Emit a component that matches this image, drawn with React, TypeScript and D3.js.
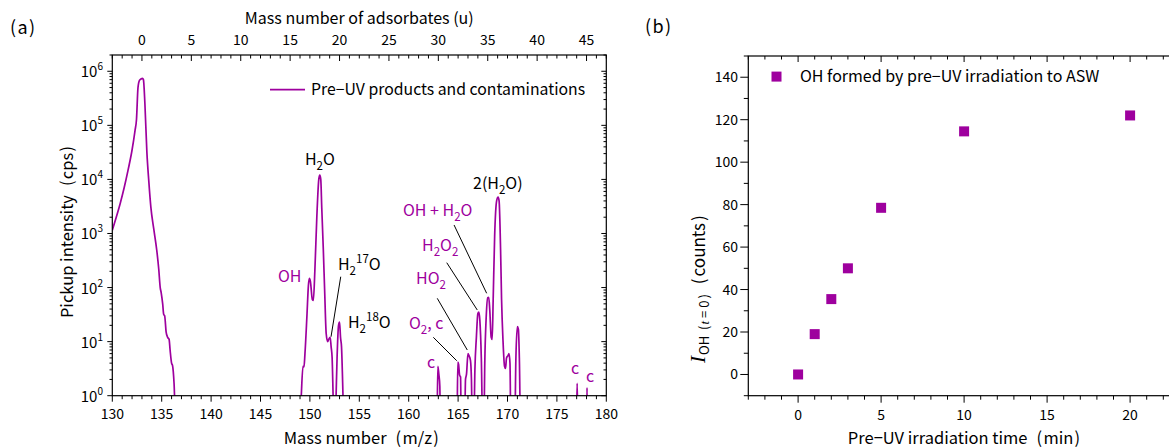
import React from 'react';
import * as d3 from 'd3';

// ---------- data ----------
const mzValues = [
  130.0, 130.4, 130.8, 131.2, 131.6, 132.0, 132.3, 132.45, 132.6, 132.75, 132.9, 133.05, 133.15, 133.3, 133.5, 133.7, 133.9,
  134.2, 134.5, 134.7, 134.85, 134.95, 135.1, 135.2, 135.3, 135.45, 135.6, 135.75, 135.85, 136.0, 136.1, 136.25, 136.45,
  148.9, 149.1, 149.3, 149.4, 149.5, 149.7, 149.85, 149.95, 150.05, 150.25, 150.35, 150.5, 150.7, 150.9, 151.0, 151.1,
  151.2, 151.36, 151.5, 151.65, 151.8, 151.9, 152.05, 152.15, 152.25, 152.35, 152.45,
  152.55, 152.65, 152.75, 152.9, 153.0, 153.1, 153.2, 153.35, 153.45,
  162.85, 162.95, 163.05, 163.15, 163.22,
  164.88, 164.97, 165.05, 165.15, 165.25, 165.32,
  165.65, 165.75, 165.85, 166.0, 166.1, 166.25, 166.35, 166.45,
  166.58, 166.7, 166.85, 167.0, 167.1, 167.2, 167.35, 167.5,
  167.6, 167.7, 167.85, 168.0, 168.1, 168.2, 168.35, 168.45, 168.55, 168.7, 168.9, 169.05, 169.15, 169.3, 169.4, 169.55,
  169.7, 169.8, 169.9, 170.05, 170.15, 170.25, 170.35,
  170.72, 170.85, 171.0, 171.1, 171.2, 171.33,
  176.95, 177.05, 177.15,
  177.98, 178.05, 178.1, 180.0,
];
const cpsValues = [
  1150, 2000, 3600, 7000, 15000, 35000, 80000, 130000, 500000, 680000, 720000, 740000, 700000, 250000, 32000, 9000, 3100,
  1200, 490, 220, 100, 80, 50, 32, 30, 15, 12, 11, 7, 4, 3.6, 1.7, 0.2,
  0.2, 0.8, 3.5, 3.4, 6, 30, 110, 148, 130, 60, 58, 200, 2000, 10000, 12000, 10000,
  3000, 490, 80, 14, 10, 11, 12, 8, 5, 1, 0.2,
  0.2, 1, 5, 20, 23, 12, 8, 1, 0.2,
  0.2, 3.5, 2.5, 1.5, 0.2,
  0.2, 4.2, 3.8, 2.4, 2.2, 0.2,
  0.2, 2, 2.5, 6, 5.5, 4.5, 2, 0.2,
  0.2, 3, 12, 33, 35, 25, 5, 0.2,
  0.2, 4, 30, 65, 66, 40, 12, 11, 60, 900, 4000, 4700, 4000, 500, 60, 10,
  3.5, 3.2, 5, 5.5, 6, 4, 0.2,
  0.2, 5, 19, 17, 5, 0.2,
  0.2, 1.7, 0.2,
  0.2, 1.4, 0.2, 0.2,
];

const timeMin = [0, 1, 2, 3, 5, 10, 20];
const ohCounts = [0, 19, 35.5, 50, 78.5, 114.5, 122];

const massTicks = [130, 135, 140, 145, 150, 155, 160, 165, 170, 175, 180];
const adsTicks = [0, 5, 10, 15, 20, 25, 30, 35, 40, 45];
const decadeExp = [0, 1, 2, 3, 4, 5, 6];
const timeTicks = [0, 5, 10, 15, 20];
const countTicks = [0, 20, 40, 60, 80, 100, 120, 140];

// annotation labels in data units (m/z, log10 intensity)
type Part = { t: string; s?: 'sub' | 'sup' };
const peakLabels: { parts: Part[]; mz: number; lg: number; purple: boolean }[] = [
  { parts: [{ t: 'H' }, { t: '2', s: 'sub' }, { t: 'O' }], mz: 149.5, lg: 4.267, purple: false },
  { parts: [{ t: 'OH' }], mz: 146.77, lg: 2.103, purple: true },
  { parts: [{ t: 'H' }, { t: '2', s: 'sub' }, { t: '17', s: 'sup' }, { t: 'O' }], mz: 152.84, lg: 2.325, purple: false },
  { parts: [{ t: 'H' }, { t: '2', s: 'sub' }, { t: '18', s: 'sup' }, { t: 'O' }], mz: 153.85, lg: 1.252, purple: false },
  { parts: [{ t: '2(H' }, { t: '2', s: 'sub' }, { t: 'O)' }], mz: 166.51, lg: 3.823, purple: false },
  { parts: [{ t: 'OH + H' }, { t: '2', s: 'sub' }, { t: 'O' }], mz: 159.42, lg: 3.323, purple: true },
  { parts: [{ t: 'H' }, { t: '2', s: 'sub' }, { t: 'O' }, { t: '2', s: 'sub' }], mz: 161.35, lg: 2.676, purple: true },
  { parts: [{ t: 'HO' }, { t: '2', s: 'sub' }], mz: 160.74, lg: 2.066, purple: true },
  { parts: [{ t: 'O' }, { t: '2', s: 'sub' }, { t: ', c' }], mz: 160.03, lg: 1.234, purple: true },
  { parts: [{ t: 'c' }], mz: 161.85, lg: 0.512, purple: true },
  { parts: [{ t: 'c' }], mz: 176.43, lg: 0.401, purple: true },
  { parts: [{ t: 'c' }], mz: 177.94, lg: 0.253, purple: true },
];
const leaders = [
  [153.12, 2.201, 152.14, 1.091],
  [164.59, 3.157, 167.89, 1.894],
  [163.85, 2.46, 166.94, 1.585],
  [162.89, 1.801, 165.93, 0.845],
  [162.49, 1.08, 164.86, 0.647],
];

// ---------- layout ----------
const W = 1169;
const H = 448;
const FONT = "'Noto Sans CJK JP', 'Noto Sans', sans-serif";
const SERIF = "'Liberation Serif', 'DejaVu Serif', serif";
const PURPLE = '#9e009e';

const L = { x0: 112.3, x1: 606.3, y0: 55, y1: 395.7 };
const R = { x0: 748.3, x1: 1171.6, y0: 56, y1: 395.7 };

const xL = d3.scaleLinear().domain([130, 180]).range([L.x0, L.x1]);
const xTop = d3.scaleLinear().domain([-3, 47]).range([L.x0, L.x1]);
const yL = d3.scaleLog().domain([1, 2e6]).range([L.y1, L.y0]);
const xR = d3.scaleLinear().domain([-3, 22.5]).range([R.x0, R.x1]);
const yR = d3.scaleLinear().domain([-10, 150]).range([R.y1, R.y0]);

// text with wide-looking parentheses (as in the original Japanese font)
function wide(str: string, size: number, keyBase: string, k = 0.32) {
  const segs = str.split(/([()])/).filter((s) => s !== '');
  const out: any[] = [];
  let pending = 0;
  segs.forEach((s, i) => {
    let dx = pending;
    pending = 0;
    if (s === '(') {
      dx += size * k;
      pending = size * 0.08;
    } else if (s === ')') {
      dx += size * 0.08;
      pending = size * k;
    }
    out.push(
      <tspan key={keyBase + i} dx={dx || undefined}>
        {s}
      </tspan>
    );
  });
  return out;
}

function Label({ parts, x, y, size, fill }: { parts: Part[]; x: number; y: number; size: number; fill: string }) {
  const subSize = size * 0.72;
  let cur = 0;
  const spans = parts.map((p, i) => {
    const target = p.s === 'sub' ? size * 0.3 : p.s === 'sup' ? -size * 0.42 : 0;
    const dy = target - cur;
    cur = target;
    return (
      <tspan key={i} dy={dy} fontSize={p.s ? subSize : size}>
        {p.t}
      </tspan>
    );
  });
  return (
    <text x={x} y={y} fill={fill} fontSize={size} fontFamily={FONT}>
      {spans}
    </text>
  );
}

export default function App() {
  const line = d3
    .line<number>()
    .x((_, i) => xL(mzValues[i]))
    .y((_, i) => yL(Math.max(cpsValues[i], 0.05)))
    .curve(d3.curveMonotoneX);
  const pathD = line(mzValues.map((_, i) => i)) || '';

  const massMinor = d3.range(130, 181, 1);
  const adsMinor = d3.range(-3, 48, 1);
  const logMinor: number[] = [];
  for (const e of decadeExp) for (let k = 2; k <= 9; k++) {
    const v = k * Math.pow(10, e);
    if (v <= 2e6) logMinor.push(v);
  }
  const timeMinor = d3.range(-3, 23, 1);
  const countMinor = d3.range(-10, 151, 10);

  const axisStroke = { stroke: '#000', strokeWidth: 1.2 };
  const legY = yL(Math.pow(10, 5.66));

  return (
    <svg width={W} height={H} style={{ position: 'absolute', left: 0, top: 0, background: '#fff' }}>
      <defs>
        <clipPath id="clipL">
          <rect x={L.x0} y={L.y0} width={L.x1 - L.x0} height={L.y1 - L.y0} />
        </clipPath>
      </defs>
      <rect x={0} y={0} width={W} height={H} fill="#fff" />

      {/* ===== Panel (a) ===== */}
      <text x={10} y={34} fontSize={18} fontFamily={FONT}>{wide('(a)', 18, 'a', 0)}</text>
      <path d={pathD} fill="none" stroke={PURPLE} strokeWidth={1.7} clipPath="url(#clipL)" />

      <rect x={L.x0} y={L.y0} width={L.x1 - L.x0} height={L.y1 - L.y0} fill="none" {...axisStroke} />

      {/* bottom axis */}
      {massMinor.map((v) => (
        <line key={'bm' + v} x1={xL(v)} x2={xL(v)} y1={L.y1} y2={L.y1 + (v % 5 === 0 ? 6 : 3.5)} stroke="#000" strokeWidth={1} />
      ))}
      {massTicks.map((v) => (
        <text key={'bl' + v} x={xL(v)} y={419} textAnchor="middle" fontSize={14} fontFamily={FONT}>{v}</text>
      ))}
      <text x={(L.x0 + L.x1) / 2 + 2} y={444} textAnchor="middle" fontSize={16.5} fontFamily={FONT}>
        {wide('Mass number (m/z)', 16.5, 'mt')}
      </text>

      {/* top axis */}
      {adsMinor.map((v) => (
        <line key={'tm' + v} x1={xTop(v)} x2={xTop(v)} y1={L.y0} y2={L.y0 + (v % 5 === 0 ? 6 : 3.5)} stroke="#000" strokeWidth={1} />
      ))}
      {adsTicks.map((v) => (
        <text key={'tl' + v} x={xTop(v)} y={45} textAnchor="middle" fontSize={14} fontFamily={FONT}>{v}</text>
      ))}
      <text x={(L.x0 + L.x1) / 2} y={24} textAnchor="middle" fontSize={16} fontFamily={FONT}>Mass number of adsorbates (u)</text>

      {/* left / right axes */}
      {decadeExp.map((e) => (
        <g key={'ly' + e}>
          <line x1={L.x0 - 5} x2={L.x0} y1={yL(Math.pow(10, e))} y2={yL(Math.pow(10, e))} stroke="#000" strokeWidth={1} />
          <line x1={L.x1 - 5} x2={L.x1} y1={yL(Math.pow(10, e))} y2={yL(Math.pow(10, e))} stroke="#000" strokeWidth={1} />
          <text x={103} y={yL(Math.pow(10, e)) + 6} textAnchor="end" fontSize={15} fontFamily={FONT}>
            10<tspan dy={-7} fontSize={10}>{e}</tspan>
          </text>
        </g>
      ))}
      {logMinor.map((v) => (
        <g key={'lm' + v}>
          <line x1={L.x0 - 2.8} x2={L.x0} y1={yL(v)} y2={yL(v)} stroke="#000" strokeWidth={1} />
          <line x1={L.x1 - 2.8} x2={L.x1} y1={yL(v)} y2={yL(v)} stroke="#000" strokeWidth={1} />
        </g>
      ))}
      <text transform={`translate(73,232) rotate(-90)`} textAnchor="middle" fontSize={16.5} fontFamily={FONT}>
        {wide('Pickup intensity (cps)', 16.5, 'pi')}
      </text>

      {/* legend a */}
      <line x1={270} x2={305} y1={legY} y2={legY} stroke={PURPLE} strokeWidth={1.7} />
      <text x={311} y={legY + 5.5} fontSize={15.8} fontFamily={FONT}>Pre−UV products and contaminations</text>

      {/* peak labels */}
      {leaders.map((l, i) => (
        <line key={'ld' + i} x1={xL(l[0])} y1={yL(Math.pow(10, l[1]))} x2={xL(l[2])} y2={yL(Math.pow(10, l[3]))} stroke="#000" strokeWidth={1} />
      ))}
      {peakLabels.map((p, i) => (
        <Label key={'pl' + i} parts={p.parts} x={xL(p.mz)} y={yL(Math.pow(10, p.lg))} size={16} fill={p.purple ? PURPLE : '#000'} />
      ))}

      {/* ===== Panel (b) ===== */}
      <text x={645} y={33} fontSize={18} fontFamily={FONT}>{wide('(b)', 18, 'b', 0)}</text>
      <rect x={R.x0} y={R.y0} width={R.x1 - R.x0} height={R.y1 - R.y0} fill="none" {...axisStroke} />

      {timeMinor.map((v) => (
        <g key={'rb' + v}>
          <line x1={xR(v)} x2={xR(v)} y1={R.y1} y2={R.y1 + (v % 5 === 0 ? 7 : 4)} stroke="#000" strokeWidth={1} />
          <line x1={xR(v)} x2={xR(v)} y1={R.y0} y2={R.y0 + (v % 5 === 0 ? 6 : 3.5)} stroke="#000" strokeWidth={1} />
        </g>
      ))}
      {timeTicks.map((v) => (
        <text key={'rbl' + v} x={xR(v)} y={420} textAnchor="middle" fontSize={14} fontFamily={FONT}>{v}</text>
      ))}
      <text x={964} y={444} textAnchor="middle" fontSize={16.5} fontFamily={FONT}>
        {wide('Pre−UV irradiation time (min)', 16.5, 'pt')}
      </text>

      {countMinor.map((v) => (
        <line key={'rl' + v} x1={R.x0 - (v % 20 === 0 ? 8 : 4.5)} x2={R.x0} y1={yR(v)} y2={yR(v)} stroke="#000" strokeWidth={1} />
      ))}
      {countTicks.map((v) => (
        <text key={'rll' + v} x={738} y={yR(v) + 5} textAnchor="end" fontSize={14} fontFamily={FONT}>{v}</text>
      ))}
      <text transform={`translate(705,363) rotate(-90)`} fontFamily={FONT} fontSize={17}>
        <tspan fontFamily={SERIF} fontStyle="italic" fontSize={21}>I</tspan>
        <tspan dx={1} dy={4} fontSize={13}>OH</tspan>
        <tspan dx={6} fontSize={13}>(</tspan>
        <tspan dx={1} fontSize={13} fontFamily={SERIF} fontStyle="italic">t</tspan>
        <tspan fontSize={13}> = 0</tspan>
        <tspan dx={2} fontSize={13}>)</tspan>
        <tspan dx={10} dy={-4} fontSize={17}>(</tspan>
        <tspan dx={2} fontSize={17}>counts</tspan>
        <tspan dx={2} fontSize={17}>)</tspan>
      </text>

      {/* legend b */}
      <rect x={771.5} y={yR(140.3) - 5} width={10} height={10} fill={PURPLE} />
      <text x={800} y={yR(140.3) + 5.5} fontSize={16} fontFamily={FONT}>OH formed by pre−UV irradiation to ASW</text>

      {/* points */}
      {timeMin.map((t, i) => (
        <rect key={'pt' + i} x={xR(t) - 5} y={yR(ohCounts[i]) - 5} width={10} height={10} fill={PURPLE} />
      ))}
    </svg>
  );
}
